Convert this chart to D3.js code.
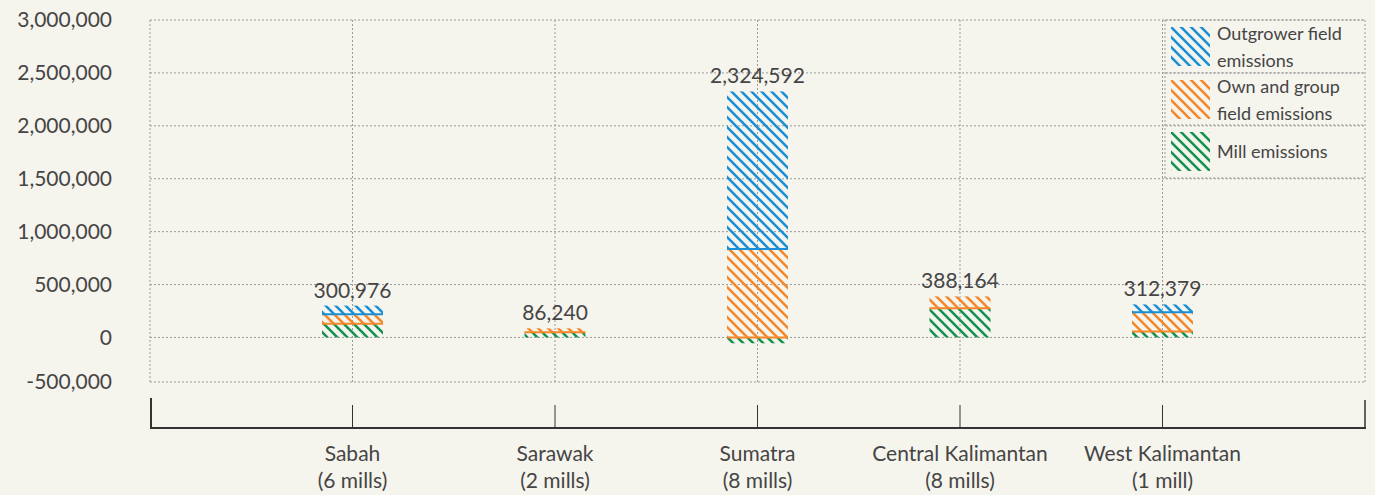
<!DOCTYPE html>
<html>
<head>
<meta charset="utf-8">
<script src="https://cdn.jsdelivr.net/npm/d3@7.9.0/dist/d3.min.js"></script>
<style>
  body { margin: 0; background: #f5f4ed; }
  svg { display: block; font-family: Lato, "Open Sans", sans-serif; }
</style>
</head>
<body>
<svg id="chart" width="1375" height="495"></svg>
<script>
const regions = ['Sabah', 'Sarawak', 'Sumatra', 'Central Kalimantan', 'West Kalimantan'];
const mills = ['(6 mills)', '(2 mills)', '(8 mills)', '(8 mills)', '(1 mill)'];
const millEmissions = [130000, 50000, -55000, 275000, 57000];
const ownEmissions = [90000, 36240, 835000, 113164, 181000];
const outgrowerEmissions = [80976, 0, 1489592, 0, 74379];
const totals = [300976, 86240, 2324592, 388164, 312379];
const yTicks = [-500000, 0, 500000, 1000000, 1500000, 2000000, 2500000, 3000000];

const series = [
  { key: 'mill', name: ['Mill emissions'], values: millEmissions, color: '#14924f' },
  { key: 'own', name: ['Own and group', 'field emissions'], values: ownEmissions, color: '#f5872a' },
  { key: 'out', name: ['Outgrower field', 'emissions'], values: outgrowerEmissions, color: '#1a8fd6' }
];

const fmt = d3.formatLocale({ decimal: '.', thousands: ',', grouping: [3], currency: ['', ''], minus: '-' }).format(',');

const plotL = 150, plotR = 1365, plotT = 20, plotB = 382;
const svg = d3.select('#chart');

const x = d3.scalePoint().domain(regions).range([plotL, plotR]).padding(1);
const y = d3.scaleLinear().domain([-421000, 3000000]).range([plotB, plotT]).clamp(true);

// hatch patterns
const defs = svg.append('defs');
series.forEach((s) => {
  const p = defs.append('pattern')
    .attr('id', 'hatch-' + s.key)
    .attr('patternUnits', 'userSpaceOnUse')
    .attr('width', 10).attr('height', 10);
  p.append('path')
    .attr('d', 'M-1,-1L11,11M-1,9L1,11M9,-1L11,1')
    .attr('stroke', s.color)
    .attr('stroke-width', 2.6);
});

// grid
const grid = svg.append('g').attr('stroke', '#9a9a9a').attr('stroke-dasharray', '2,2').attr('fill', 'none');
yTicks.forEach((t) => {
  grid.append('line').attr('x1', plotL).attr('x2', plotR).attr('y1', y(t)).attr('y2', y(t));
});
grid.append('line').attr('x1', plotL).attr('x2', plotL).attr('y1', plotT).attr('y2', plotB);
grid.append('line').attr('x1', plotR).attr('x2', plotR).attr('y1', plotT).attr('y2', plotB);
regions.forEach((r) => {
  grid.append('line').attr('x1', x(r)).attr('x2', x(r)).attr('y1', plotT).attr('y2', plotB);
});

// y labels
svg.append('g').selectAll('text').data(yTicks).join('text')
  .attr('x', 112).attr('y', (d) => y(d)).attr('dy', '0.35em')
  .attr('text-anchor', 'end').attr('font-size', 21).attr('fill', '#454545')
  .text((d) => fmt(d));

// stacked bars
const barW = 61;
const bars = svg.append('g');
regions.forEach((r, i) => {
  let pos = 0, neg = 0;
  series.forEach((s) => {
    const v = s.values[i];
    if (!v) return;
    let y0, y1;
    if (v >= 0) { y0 = pos; y1 = pos + v; pos = y1; } else { y0 = neg; y1 = neg + v; neg = y1; }
    const yt = y(Math.max(y0, y1)), yb = y(Math.min(y0, y1));
    bars.append('rect')
      .attr('x', x(r) - barW / 2).attr('width', barW)
      .attr('y', yt).attr('height', yb - yt)
      .attr('fill', 'url(#hatch-' + s.key + ')');
    if (s.key !== 'mill') {
      bars.append('line')
        .attr('x1', x(r) - barW / 2).attr('x2', x(r) + barW / 2)
        .attr('y1', y(y0)).attr('y2', y(y0))
        .attr('stroke', s.color).attr('stroke-width', 2);
    }
  });
  bars.append('text')
    .attr('x', x(r)).attr('y', y(pos) - 8)
    .attr('text-anchor', 'middle').attr('font-size', 21).attr('fill', '#454545')
    .text(fmt(totals[i]));
});

// bottom axis
const axisY = 428;
const ax = svg.append('g').attr('stroke', '#333');
ax.append('line').attr('x1', plotL).attr('x2', plotR + 1).attr('y1', axisY).attr('y2', axisY).attr('stroke-width', 2);
ax.append('line').attr('x1', plotL + 1).attr('x2', plotL + 1).attr('y1', 398).attr('y2', axisY).attr('stroke-width', 2);
ax.append('line').attr('x1', plotR).attr('x2', plotR).attr('y1', 400).attr('y2', axisY).attr('stroke-width', 1.5);
regions.forEach((r) => {
  ax.append('line').attr('x1', x(r)).attr('x2', x(r)).attr('y1', 405).attr('y2', axisY).attr('stroke-width', 1);
});
const lab = svg.append('g').attr('font-size', 21).attr('fill', '#454545').attr('text-anchor', 'middle');
regions.forEach((r, i) => {
  lab.append('text').attr('x', x(r)).attr('y', 461).text(r);
  lab.append('text').attr('x', x(r)).attr('y', 488).text(mills[i]);
});

// legend
const lg = svg.append('g').attr('transform', 'translate(1165,20)');
const legendRows = [series[2], series[1], series[0]];
const rowY = [0, 53, 105, 158];
lg.append('line').attr('x1', 0).attr('x2', 0).attr('y1', 0).attr('y2', 158)
  .attr('stroke', '#9a9a9a').attr('stroke-dasharray', '2,2');
rowY.forEach((ry) => {
  lg.append('line').attr('x1', 0).attr('x2', 200).attr('y1', ry).attr('y2', ry)
    .attr('stroke', '#9a9a9a').attr('stroke-dasharray', '2,2');
});
legendRows.forEach((s, i) => {
  const g = lg.append('g').attr('transform', `translate(6,${rowY[i] + 7})`);
  g.append('rect').attr('width', 39).attr('height', 39).attr('fill', 'url(#hatch-' + s.key + ')');
  const lines = s.name;
  lines.forEach((t, j) => {
    g.append('text')
      .attr('x', 46)
      .attr('y', lines.length === 1 ? 26 : 13 + j * 27)
      .attr('font-size', 18).attr('fill', '#454545')
      .text(t);
  });
});
</script>
</body>
</html>
